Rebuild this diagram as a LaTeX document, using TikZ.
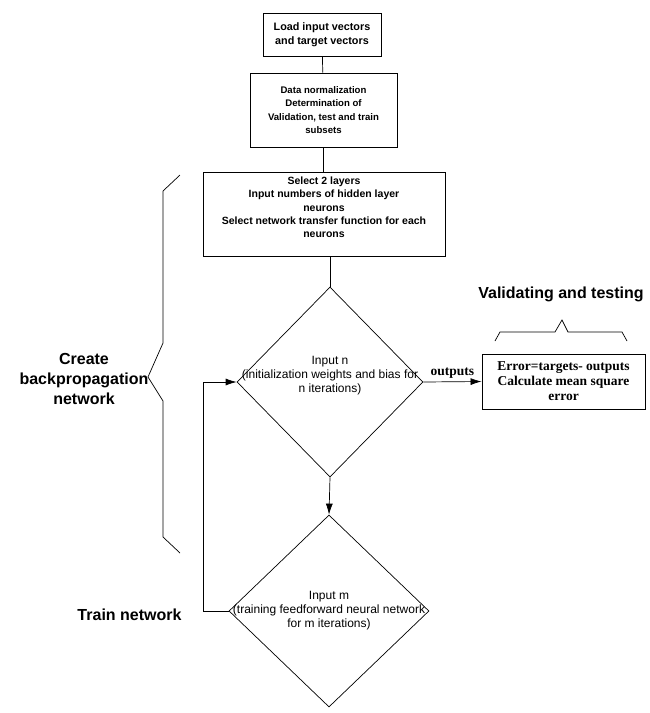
\documentclass[tikz,border=0pt]{standalone}
\usepackage{fontspec}
\setmainfont{Liberation Sans}
\newfontfamily\timesfont{Liberation Serif}
\usetikzlibrary{shapes.geometric,arrows.meta}

\tikzset{
  stepbox/.style={draw,line width=0.9pt,inner sep=0pt,align=center,
    font=\bfseries\fontsize{10.5}{13.3}\selectfont},
  decision/.style={draw,diamond,line width=0.7pt,inner sep=0pt},
  dtext/.style={align=center,font=\fontsize{12}{14}\selectfont},
  conn/.style={line width=0.7pt},
  arr/.style={conn,-{Latex[length=11pt,width=7pt]}},
  biglabel/.style={align=center,font=\bfseries\fontsize{16}{20}\selectfont},
  serifbold/.style={font=\timesfont\bfseries\fontsize{13.5}{15}\selectfont}
}

\begin{document}
\begin{tikzpicture}[x=1pt,y=-1pt]
		\useasboundingbox (0,0) rectangle (649,713);
		% boxes
		\node (load) at (322,34.5)[stepbox,minimum width=118pt,minimum height=43pt,
			font=\bfseries\fontsize{10.8}{13.5}\selectfont]{Load input vectors\\and target vectors};
		\node (norm) at (323.5,110)[stepbox,minimum width=147pt,minimum height=74pt,
			font=\bfseries\fontsize{9.6}{13.3}\selectfont]{Data normalization\\Determination of\\Validation, test and train\\subsets};
		\node (layers) at (324,214)[stepbox,minimum width=242pt,minimum height=84pt]{Select 2 layers\\Input numbers of hidden layer\\neurons\\Select network transfer function for each\\neurons\\\rule{0pt}{6pt}};
		\node (error) at (563.5,381.5)[stepbox,serifbold,minimum width=163pt,minimum height=55pt]{Error=targets- outputs\\Calculate mean square\\error};
		% decisions
		\node (init) at (330,382)[decision,minimum width=186pt,minimum height=190pt]{};
		\node (inittext) at (330,376)[dtext]{Input n\\(initialization weights and bias for\\n iterations)};
		\node (train) at (329,611)[decision,minimum width=200pt,minimum height=192pt]{};
		\node (traintext) at (329,611)[dtext]{Input m\\(training feedforward neural network\\for m iterations)};
		\coordinate (loop) at (203,611);
		% connectors
		\draw[conn] (load) -- (norm);
		\draw[conn] (norm.south) -- (norm.south |- layers.north);
		\draw[conn] (init.north |- layers.south) -- (init.north);
		\draw[arr] (init.south) -- (train.north);
		\draw[arr] (init.east) -- node[above=0pt,serifbold]{outputs} (error.west);
		\draw[arr] (train.west) -- (loop) |- (init.west);
		% braces
		\draw[conn] (180,175) -- (163,191) -- (163,343) -- (148,377) -- (163,401) -- (163,537) -- (180,553);
		\draw[conn] (495,341) -- (500,332) -- (555,332) -- (562,320) -- (568,332) -- (622,332) -- (627,341);
		% labels
		\node (createlbl) at (84,379)[biglabel]{Create\\backpropagation\\network};
		\node (trainlbl) at (129.5,615)[biglabel]{Train network};
		\node (validlbl) at (561,294)[biglabel]{Validating and testing};
\end{tikzpicture}
\end{document}
